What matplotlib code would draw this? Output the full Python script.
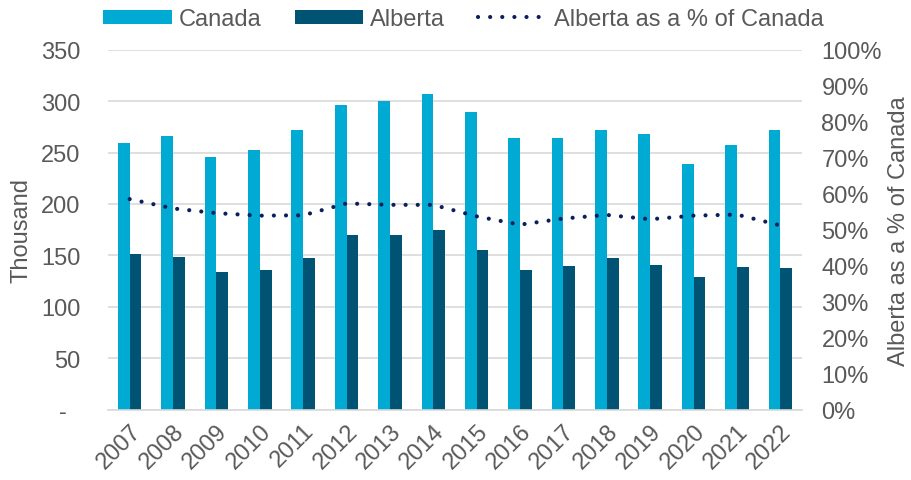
import numpy as np
import matplotlib.pyplot as plt
from matplotlib.ticker import FixedLocator

plt.rcParams['font.family'] = ['Liberation Sans', 'DejaVu Sans']

# dati
years = ['2007', '2008', '2009', '2010', '2011', '2012', '2013', '2014',
         '2015', '2016', '2017', '2018', '2019', '2020', '2021', '2022']
canada = [259, 266, 246, 252, 272, 296, 300, 307,
          289, 264, 264, 272, 268, 239, 257, 272]
alberta = [151, 148, 134, 136, 147, 170, 170, 175,
           155, 136, 140, 147, 141, 129, 139, 138]
pct_alberta = [58.5, 55.9, 54.6, 53.9, 54.0, 57.3, 56.9, 56.9,
               53.7, 51.4, 53.1, 54.1, 52.9, 53.9, 54.2, 51.2]

c_canada = '#00AAD2'
c_alberta = '#005372'
c_line = '#0B1F5C'
c_text = '#595959'
c_grid = '#D9D9D9'
fs = 17

fig = plt.figure(figsize=(9.12, 4.81), dpi=100)
ax = fig.add_axes([0.1184, 0.1462, 0.7610, 0.7484])
x = np.arange(len(years))
w = 0.27

b1 = ax.bar(x - w / 2, canada, w, color=c_canada, label='Canada', zorder=2)
b2 = ax.bar(x + w / 2, alberta, w, color=c_alberta, label='Alberta', zorder=2)

ax.set_xlim(-0.5, len(years) - 0.5)
ax.set_ylim(0, 350)
ax.yaxis.set_major_locator(FixedLocator(np.arange(0, 351, 50)))
ax.set_yticklabels(['-  '] + [str(v) for v in range(50, 351, 50)])
ax.grid(axis='y', color=c_grid, lw=1.2, zorder=0)
ax.set_axisbelow(True)
for s in ['top', 'right', 'left']:
    ax.spines[s].set_visible(False)
ax.spines['bottom'].set_color(c_grid)
ax.spines['bottom'].set_linewidth(1.2)
ax.tick_params(axis='y', length=0, pad=20, labelsize=fs, labelcolor=c_text)
ax.tick_params(axis='x', length=0, pad=7, labelsize=fs, labelcolor=c_text)
ax.set_xticks(x)
ax.set_xticklabels(years, rotation=45, ha='right', rotation_mode='anchor')
ax.set_ylabel('Thousand', fontsize=fs, color=c_text, labelpad=6)

ax2 = ax.twinx()
l1, = ax2.plot(x, pct_alberta, color=c_line, lw=3.0, linestyle=(0, (0.01, 2.9)),
               dash_capstyle='round', label='Alberta as a % of Canada', zorder=3)
ax2.set_ylim(0, 100)
ax2.set_yticks(np.arange(0, 101, 10))
ax2.set_yticklabels([f'{v}%' for v in range(0, 101, 10)])
for s in ax2.spines.values():
    s.set_visible(False)
ax2.tick_params(axis='y', length=0, pad=14, labelsize=fs, labelcolor=c_text)
ax2.set_ylabel('Alberta as a % of Canada', fontsize=fs, color=c_text, labelpad=4)

fig.legend(handles=[b1, b2, l1], loc='center', bbox_to_anchor=(0.508, 0.958),
           ncol=3, frameon=False, fontsize=fs, labelcolor=c_text,
           handlelength=2.9, handleheight=0.55, handletextpad=0.3,
           columnspacing=1.4, borderaxespad=0)

plt.savefig('out.png', dpi=100)
plt.close(fig)
